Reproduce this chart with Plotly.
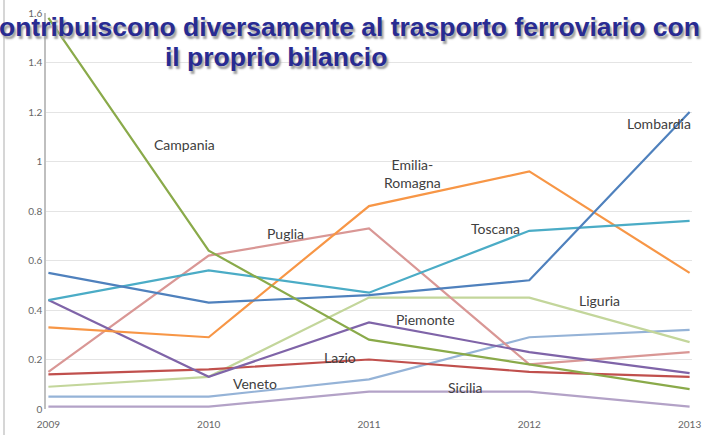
import plotly.graph_objects as go

years = [2009, 2010, 2011, 2012, 2013]

campania = [1.58, 0.64, 0.28, 0.18, 0.08]
lombardia = [0.55, 0.43, 0.46, 0.52, 1.20]
toscana = [0.44, 0.56, 0.47, 0.72, 0.76]
emilia_romagna = [0.33, 0.29, 0.82, 0.96, 0.55]
puglia = [0.15, 0.62, 0.73, 0.18, 0.23]
lazio = [0.14, 0.16, 0.20, 0.15, 0.13]
piemonte = [0.44, 0.13, 0.35, 0.23, 0.145]
liguria = [0.09, 0.13, 0.45, 0.45, 0.27]
veneto = [0.05, 0.05, 0.12, 0.29, 0.32]
sicilia = [0.01, 0.01, 0.07, 0.07, 0.01]

series = [
    ("Veneto", veneto, "#95b3d7"),
    ("Sicilia", sicilia, "#b3a2c7"),
    ("Liguria", liguria, "#c3d69b"),
    ("Lazio", lazio, "#c0504d"),
    ("Puglia", puglia, "#d99795"),
    ("Piemonte", piemonte, "#7f64a8"),
    ("Emilia-Romagna", emilia_romagna, "#f79646"),
    ("Toscana", toscana, "#4bacc6"),
    ("Lombardia", lombardia, "#4f81bd"),
    ("Campania", campania, "#8aaa4a"),
]

label_text = ["Campania", "Emilia-<br>Romagna", "Puglia", "Toscana", "Lombardia",
              "Liguria", "Piemonte", "Lazio", "Veneto", "Sicilia"]
label_x = [2009.85, 2011.27, 2010.48, 2011.79, 2012.81, 2012.44, 2011.35, 2010.82, 2010.29, 2011.60]
label_y = [1.07, 0.95, 0.71, 0.73, 1.155, 0.44, 0.36, 0.21, 0.105, 0.085]

y_ticks = [0, 0.2, 0.4, 0.6, 0.8, 1, 1.2, 1.4, 1.6]
y_tick_text = ["0", "0.2", "0.4", "0.6", "0.8", "1", "1.2", "1.4", "1.6"]

title_line1 = "ontribuiscono diversamente al trasporto ferroviario con"
title_line2 = "il proprio bilancio"

W, H = 710, 435
ML, MR, MT, MB = 46, 18, 13, 26

fig = go.Figure()
for name, vals, col in series:
    fig.add_trace(go.Scatter(x=years, y=vals, mode="lines", name=name,
                             line=dict(color=col, width=2.2), showlegend=False))

for t, x, y in zip(label_text, label_x, label_y):
    fig.add_annotation(x=x, y=y, xref="x", yref="y", text=t, showarrow=False,
                       font=dict(family="Lato", size=14, color="#404040"))

def px_x(p):
    return (p - ML) / (W - ML - MR)

def px_y(p):
    return 1 - (p - MT) / (H - MT - MB)

title_font = dict(family="Liberation Sans", size=26.5, color="#282b92", weight="bold",
                  shadow="2px 3px 2px #a0a0a0")
fig.add_annotation(xref="paper", yref="paper", x=px_x(-3), y=px_y(27), xanchor="left",
                   yanchor="middle", text=title_line1, showarrow=False, font=title_font)
fig.add_annotation(xref="paper", yref="paper", x=px_x(163), y=px_y(57), xanchor="left",
                   yanchor="middle", text=title_line2, showarrow=False, font=title_font)

fig.add_shape(type="line", xref="paper", yref="paper", x0=px_x(4), x1=px_x(4), y0=-0.1, y1=1.1,
              line=dict(color="#c8c8c8", width=1.5))

fig.update_layout(
    width=W, height=H,
    margin=dict(l=ML, r=MR, t=MT, b=MB, autoexpand=False),
    paper_bgcolor="white", plot_bgcolor="white",
    xaxis=dict(range=[2008.985, 2013.015], tickvals=years, ticktext=[str(y) for y in years],
               showgrid=False, zeroline=False, showline=False, ticks="",
               ticklabelstandoff=8, automargin=False,
               tickfont=dict(family="Lato", size=10, color="#666666")),
    yaxis=dict(range=[0, 1.6], tickvals=y_ticks, ticktext=y_tick_text,
               showgrid=True, gridcolor="#e4e4e4", gridwidth=1, zeroline=False,
               showline=True, linecolor="#bfbfbf", linewidth=1.5, ticks="",
               automargin=False,
               tickfont=dict(family="Lato", size=10, color="#666666")),
)

fig.write_html("out.html")
